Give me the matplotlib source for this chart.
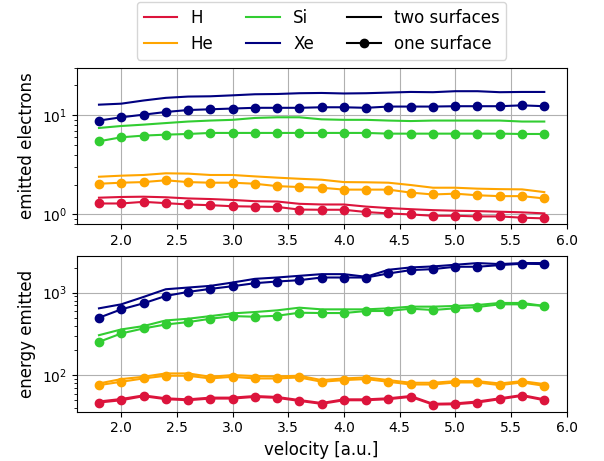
import numpy as np
import matplotlib
matplotlib.use("Agg")
import matplotlib.pyplot as plt
from matplotlib.lines import Line2D

# projectile velocity [a.u.]
velocity = [1.8, 2.0, 2.2, 2.4, 2.6, 2.8, 3.0, 3.2, 3.4, 3.6, 3.8,
            4.0, 4.2, 4.4, 4.6, 4.8, 5.0, 5.2, 5.4, 5.6, 5.8]

elements = ['H', 'He', 'Si', 'Xe']
colors = ['crimson', 'orange', 'limegreen', 'navy']

# emitted electrons, two surfaces
ne_two_H = [1.475, 1.50, 1.51, 1.49, 1.45, 1.43, 1.40, 1.36, 1.35, 1.28, 1.26,
            1.26, 1.20, 1.16, 1.13, 1.105, 1.09, 1.08, 1.065, 1.05, 1.025]
ne_two_He = [2.40, 2.46, 2.50, 2.60, 2.58, 2.50, 2.50, 2.42, 2.35, 2.29, 2.24,
             2.12, 2.11, 2.09, 1.98, 1.86, 1.86, 1.82, 1.80, 1.79, 1.68]
ne_two_Si = [7.45, 7.8, 8.05, 8.35, 8.65, 8.85, 9.0, 9.4, 9.55, 9.55, 9.1,
             9.0, 9.0, 8.85, 8.75, 8.85, 8.85, 8.85, 8.85, 8.65, 8.65]
ne_two_Xe = [12.8, 13.1, 14.1, 15.0, 15.45, 15.55, 15.9, 16.3, 16.4, 16.7, 16.8,
             16.6, 16.7, 16.95, 17.2, 17.1, 17.5, 17.5, 17.1, 17.2, 17.2]

# emitted electrons, one surface
ne_one_H = [1.29, 1.29, 1.34, 1.30, 1.26, 1.24, 1.21, 1.20, 1.19, 1.12, 1.115,
            1.115, 1.057, 1.024, 1.00, 0.97, 0.97, 0.955, 0.955, 0.927, 0.912]
ne_one_He = [2.04, 2.09, 2.12, 2.21, 2.12, 2.09, 2.09, 2.04, 1.93, 1.89, 1.86,
             1.78, 1.78, 1.78, 1.66, 1.59, 1.62, 1.56, 1.53, 1.53, 1.45]
ne_one_Si = [5.47, 6.0, 6.24, 6.38, 6.48, 6.64, 6.64, 6.64, 6.64, 6.64, 6.64,
             6.64, 6.64, 6.53, 6.53, 6.53, 6.53, 6.53, 6.53, 6.48, 6.48]
ne_one_Xe = [8.85, 9.55, 10.15, 10.8, 11.3, 11.5, 11.7, 11.9, 11.9, 11.9, 12.05,
             12.05, 11.9, 12.25, 12.25, 12.25, 12.35, 12.35, 12.35, 12.6, 12.35]

# energy emitted, two surfaces
en_two_H = [48.5, 52, 57.5, 53, 51.5, 54, 54, 56.5, 55, 50.5, 46.5,
            51.5, 51.5, 53, 56.5, 45.5, 46, 48.5, 53, 58, 51.5]
en_two_He = [80.0, 90.4, 96.4, 105.8, 105.8, 96.4, 101, 98.3, 97.3, 99.2, 87.9,
             92.0, 94.6, 87.9, 81.6, 81.6, 85.4, 85.4, 80.0, 85.4, 78.6]
en_two_Si = [306, 359, 394, 461, 483, 520, 561, 582, 610, 657, 627,
             627, 627, 645, 676, 676, 689, 708, 749, 749, 689]
en_two_Xe = [645, 721, 885, 1096, 1149, 1204, 1321, 1463, 1519, 1592, 1667,
             1667, 1549, 1882, 2009, 2066, 2164, 2268, 2205, 2268, 2268]

# energy emitted, one surface
en_one_H = [47.1, 50.2, 56.2, 51.7, 50.2, 52.6, 52.6, 55.1, 53.6, 49.3, 45.4,
            50.2, 50.2, 51.7, 55.1, 44.5, 44.9, 47.1, 51.7, 56.7, 50.2]
en_one_He = [76.4, 83.9, 92.0, 99.2, 99.2, 92.0, 96.4, 92.0, 92.0, 94.6, 83.9,
             87.9, 90.4, 83.9, 77.8, 77.8, 82.3, 82.3, 76.4, 82.3, 75.0]
en_one_Si = [254, 321, 369, 412, 440, 483, 520, 511, 525, 571, 566,
             566, 599, 599, 639, 616, 645, 669, 721, 721, 689]
en_one_Xe = [497, 627, 742, 910, 1018, 1107, 1193, 1297, 1359, 1410, 1519,
             1519, 1519, 1699, 1865, 1918, 2047, 2047, 2144, 2226, 2205]

ne_two = [ne_two_H, ne_two_He, ne_two_Si, ne_two_Xe]
ne_one = [ne_one_H, ne_one_He, ne_one_Si, ne_one_Xe]
en_two = [en_two_H, en_two_He, en_two_Si, en_two_Xe]
en_one = [en_one_H, en_one_He, en_one_Si, en_one_Xe]

fig = plt.figure(figsize=(6.04, 4.61), dpi=100)
ax1 = fig.add_axes([0.127, 0.514, 0.811, 0.3385])
ax2 = fig.add_axes([0.127, 0.107, 0.811, 0.3377])

for i in range(len(elements)):
    ax1.plot(velocity, ne_two[i], color=colors[i])
    ax1.plot(velocity, ne_one[i], color=colors[i], marker='o')
    ax2.plot(velocity, en_two[i], color=colors[i])
    ax2.plot(velocity, en_one[i], color=colors[i], marker='o')

for ax in (ax1, ax2):
    ax.set_yscale('log')
    ax.set_xlim(1.6, 6.0)
    ax.grid(True)

ax1.set_ylim(0.8, 30)
ax1.set_ylabel('emitted electrons', fontsize=12)
ax2.set_ylabel('energy emitted', fontsize=12)
ax2.set_xlabel('velocity [a.u.]', fontsize=12)

# legend: elements in colour, line style for the setup
handles = [Line2D([], [], color=c) for c in colors]
handles += [Line2D([], [], color='black'),
            Line2D([], [], color='black', marker='o')]
labels = ['H', 'He', 'Si', 'Xe', 'two surfaces', 'one surface']
ax1.legend(handles, labels, ncol=3, fontsize=12, loc='lower center',
           bbox_to_anchor=(0.5, 1.0))

plt.savefig('out.png', dpi=100)
